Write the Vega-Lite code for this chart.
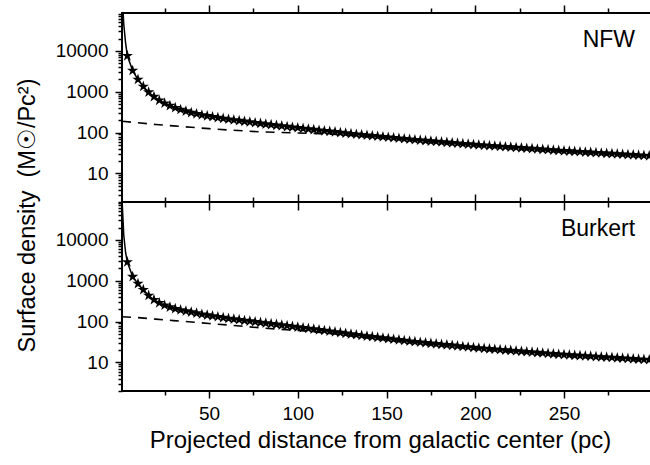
{
  "$schema": "https://vega.github.io/schema/vega-lite/v6.json",
  "background": "white",
  "padding": {"left": 14, "top": 3, "right": 0, "bottom": 0},
  "bounds": "flush",
  "spacing": 0,
  "config": {
    "font": "Liberation Sans",
    "view": {"stroke": "#000", "strokeWidth": 2},
    "axis": {"domain": false, "grid": false, "tickColor": "#000", "tickWidth": 1.5, "labelColor": "#000", "titleColor": "#000", "labelFont": "Liberation Sans", "titleFont": "Liberation Sans", "labelFontSize": 19, "titleFontWeight": "normal", "labelOverlap": false, "labelFlush": false}
  },
  "datasets": {
    "nfw": [{"x":1,"v":250000,"s":0},{"x":2,"v":45000,"s":0},{"x":3,"v":16000,"s":0},
{"x":4,"v":7590,"s":1},{"x":7,"v":3310,"s":1},{"x":10,"v":1995,"s":1},{"x":13,"v":1349,"s":1},{"x":16,"v":977,"s":1},{"x":19,"v":759,"s":1},{"x":22,"v":617,"s":1},{"x":25,"v":525,"s":1},{"x":28,"v":457,"s":1},{"x":31,"v":407,"s":1},{"x":34,"v":367,"s":1},{"x":37,"v":335,"s":1},{"x":40,"v":309,"s":1},{"x":43,"v":288,"s":1},{"x":46,"v":269,"s":1},{"x":49,"v":256,"s":1},{"x":52,"v":244,"s":1},{"x":55,"v":233,"s":1},{"x":58,"v":222,"s":1},{"x":61,"v":212,"s":1},{"x":64,"v":204,"s":1},{"x":67,"v":196,"s":1},{"x":70,"v":188,"s":1},{"x":73,"v":181,"s":1},{"x":76,"v":174,"s":1},{"x":79,"v":168,"s":1},{"x":82,"v":161,"s":1},{"x":85,"v":156,"s":1},{"x":88,"v":150,"s":1},{"x":91,"v":145,"s":1},{"x":94,"v":140,"s":1},{"x":97,"v":135,"s":1},{"x":100,"v":131,"s":1},{"x":103,"v":126,"s":1},{"x":106,"v":122,"s":1},{"x":109,"v":118,"s":1},{"x":112,"v":114,"s":1},{"x":115,"v":110,"s":1},{"x":118,"v":107,"s":1},{"x":121,"v":104,"s":1},{"x":124,"v":100,"s":1},{"x":127,"v":97.1,"s":1},{"x":130,"v":94,"s":1},{"x":133,"v":91,"s":1},{"x":136,"v":88.3,"s":1},{"x":139,"v":85.9,"s":1},{"x":142,"v":83.5,"s":1},{"x":145,"v":81.1,"s":1},{"x":148,"v":78.9,"s":1},{"x":151,"v":76.7,"s":1},{"x":154,"v":74.6,"s":1},{"x":157,"v":72.6,"s":1},{"x":160,"v":70.5,"s":1},{"x":163,"v":68.6,"s":1},{"x":166,"v":66.7,"s":1},{"x":169,"v":65.2,"s":1},{"x":172,"v":63.5,"s":1},{"x":175,"v":61.9,"s":1},{"x":178,"v":60.5,"s":1},{"x":181,"v":59,"s":1},{"x":184,"v":57.5,"s":1},{"x":187,"v":56.1,"s":1},{"x":190,"v":54.8,"s":1},{"x":193,"v":53.5,"s":1},{"x":196,"v":52.1,"s":1},{"x":199,"v":50.9,"s":1},{"x":202,"v":49.8,"s":1},{"x":205,"v":48.8,"s":1},{"x":208,"v":47.8,"s":1},{"x":211,"v":46.8,"s":1},{"x":214,"v":45.8,"s":1},{"x":217,"v":44.9,"s":1},{"x":220,"v":44,"s":1},{"x":223,"v":43.1,"s":1},{"x":226,"v":42.2,"s":1},{"x":229,"v":41.3,"s":1},{"x":232,"v":40.5,"s":1},{"x":235,"v":39.6,"s":1},{"x":238,"v":38.8,"s":1},{"x":241,"v":38,"s":1},{"x":244,"v":37.2,"s":1},{"x":247,"v":36.5,"s":1},{"x":250,"v":35.7,"s":1},{"x":253,"v":35.1,"s":1},{"x":256,"v":34.5,"s":1},{"x":259,"v":33.9,"s":1},{"x":262,"v":33.3,"s":1},{"x":265,"v":32.7,"s":1},{"x":268,"v":32.1,"s":1},{"x":271,"v":31.6,"s":1},{"x":274,"v":31,"s":1},{"x":277,"v":30.5,"s":1},{"x":280,"v":30,"s":1},{"x":283,"v":29.4,"s":1},{"x":286,"v":28.9,"s":1},{"x":289,"v":28.4,"s":1},{"x":292,"v":27.9,"s":1},{"x":295,"v":27.5,"s":1},{"x":298,"v":27,"s":1}],
    "bur": [{"x":1,"v":100000,"s":0},{"x":2,"v":13000,"s":0},{"x":3,"v":5000,"s":0},
{"x":4,"v":2880,"s":1},{"x":7,"v":1260,"s":1},{"x":10,"v":851,"s":1},{"x":13,"v":603,"s":1},{"x":16,"v":437,"s":1},{"x":19,"v":343,"s":1},{"x":22,"v":288,"s":1},{"x":25,"v":251,"s":1},{"x":28,"v":226,"s":1},{"x":31,"v":207,"s":1},{"x":34,"v":193,"s":1},{"x":37,"v":181,"s":1},{"x":40,"v":171,"s":1},{"x":43,"v":161,"s":1},{"x":46,"v":151,"s":1},{"x":49,"v":144,"s":1},{"x":52,"v":137,"s":1},{"x":55,"v":131,"s":1},{"x":58,"v":125,"s":1},{"x":61,"v":119,"s":1},{"x":64,"v":115,"s":1},{"x":67,"v":111,"s":1},{"x":70,"v":106,"s":1},{"x":73,"v":103,"s":1},{"x":76,"v":98.8,"s":1},{"x":79,"v":95.3,"s":1},{"x":82,"v":91.8,"s":1},{"x":85,"v":88.5,"s":1},{"x":88,"v":85.3,"s":1},{"x":91,"v":82.1,"s":1},{"x":94,"v":79.1,"s":1},{"x":97,"v":76.1,"s":1},{"x":100,"v":73.3,"s":1},{"x":103,"v":70.6,"s":1},{"x":106,"v":67.9,"s":1},{"x":109,"v":65.4,"s":1},{"x":112,"v":62.8,"s":1},{"x":115,"v":60.4,"s":1},{"x":118,"v":58,"s":1},{"x":121,"v":55.7,"s":1},{"x":124,"v":53.6,"s":1},{"x":127,"v":51.4,"s":1},{"x":130,"v":49.4,"s":1},{"x":133,"v":47.5,"s":1},{"x":136,"v":45.7,"s":1},{"x":139,"v":44.1,"s":1},{"x":142,"v":42.6,"s":1},{"x":145,"v":41,"s":1},{"x":148,"v":39.6,"s":1},{"x":151,"v":38.2,"s":1},{"x":154,"v":36.9,"s":1},{"x":157,"v":35.6,"s":1},{"x":160,"v":34.4,"s":1},{"x":163,"v":33.1,"s":1},{"x":166,"v":32.1,"s":1},{"x":169,"v":31.1,"s":1},{"x":172,"v":30.2,"s":1},{"x":175,"v":29.3,"s":1},{"x":178,"v":28.4,"s":1},{"x":181,"v":27.6,"s":1},{"x":184,"v":26.9,"s":1},{"x":187,"v":26.1,"s":1},{"x":190,"v":25.3,"s":1},{"x":193,"v":24.5,"s":1},{"x":196,"v":23.8,"s":1},{"x":199,"v":23.1,"s":1},{"x":202,"v":22.5,"s":1},{"x":205,"v":22,"s":1},{"x":208,"v":21.5,"s":1},{"x":211,"v":21,"s":1},{"x":214,"v":20.5,"s":1},{"x":217,"v":20,"s":1},{"x":220,"v":19.6,"s":1},{"x":223,"v":19.1,"s":1},{"x":226,"v":18.7,"s":1},{"x":229,"v":18.2,"s":1},{"x":232,"v":17.8,"s":1},{"x":235,"v":17.4,"s":1},{"x":238,"v":17,"s":1},{"x":241,"v":16.6,"s":1},{"x":244,"v":16.2,"s":1},{"x":247,"v":15.8,"s":1},{"x":250,"v":15.5,"s":1},{"x":253,"v":15.2,"s":1},{"x":256,"v":14.9,"s":1},{"x":259,"v":14.7,"s":1},{"x":262,"v":14.4,"s":1},{"x":265,"v":14.2,"s":1},{"x":268,"v":13.9,"s":1},{"x":271,"v":13.6,"s":1},{"x":274,"v":13.4,"s":1},{"x":277,"v":13.2,"s":1},{"x":280,"v":12.9,"s":1},{"x":283,"v":12.7,"s":1},{"x":286,"v":12.5,"s":1},{"x":289,"v":12.2,"s":1},{"x":292,"v":12,"s":1},{"x":295,"v":11.8,"s":1},{"x":298,"v":11.6,"s":1}],
    "nfwHalo": [{"x":1,"v":190},{"x":10,"v":174},{"x":20,"v":158},{"x":30,"v":146},{"x":40,"v":135},{"x":50,"v":125},{"x":60,"v":117},{"x":70,"v":110},{"x":80,"v":104},{"x":90,"v":101},{"x":100,"v":98},{"x":110,"v":95},{"x":120,"v":91},{"x":130,"v":86},{"x":140,"v":80},{"x":150,"v":74},{"x":175,"v":59.5},{"x":200,"v":48.5},{"x":250,"v":34.4},{"x":298,"v":26}],
    "burHalo": [{"x":1,"v":132},{"x":10,"v":125},{"x":20,"v":115},{"x":30,"v":106},{"x":40,"v":98},{"x":50,"v":90},{"x":60,"v":83},{"x":70,"v":76},{"x":80,"v":70},{"x":90,"v":65},{"x":100,"v":61},{"x":110,"v":56},{"x":120,"v":50.5},{"x":130,"v":45},{"x":150,"v":36},{"x":175,"v":27.6},{"x":200,"v":21.7},{"x":250,"v":14.8},{"x":298,"v":11.1}]
  },
  "vconcat": [
    {
      "width": 529,
      "height": 189,
      "resolve": {"axis": {"x": "independent"}},
      "layer": [
        {
          "data": {"name": "nfw"},
          "mark": {"type": "line", "color": "#000", "strokeWidth": 1.5, "clip": true},
          "encoding": {
            "x": {"field": "x", "type": "quantitative", "scale": {"domain": [1, 299], "nice": false, "zero": false},
              "axis": {"orient": "bottom", "values": [25,50,75,100,125,150,175,200,225,250,275], "tickSize": {"condition": {"test": "datum.value % 50 === 0", "value": 8}, "value": 5}, "labels": false, "title": null}},
            "y": {"field": "v", "type": "quantitative", "scale": {"type": "log", "domain": [2, 85000], "nice": false},
              "axis": {"orient": "left", "values": [2,3,4,5,6,7,8,9,10,20,30,40,50,60,70,80,90,100,200,300,400,500,600,700,800,900,1000,2000,3000,4000,5000,6000,7000,8000,9000,10000,20000,30000,40000,50000,60000,70000,80000], "format": "d", "labelExpr": "indexof([10,100,1000,10000], datum.value) >= 0 ? datum.label : ''", "tickSize": {"condition": {"test": "indexof([10,100,1000,10000], datum.value) >= 0", "value": 7}, "value": 4}, "labelPadding": 7, "title": "Surface density\u00a0\u00a0(M☉/Pc²)", "titleFontSize": 23.5, "titleX": -95, "titleY": 202, "titleAngle": -90, "titleBaseline": "middle", "titleAlign": "center"}}
          }
        },
        {
          "data": {"name": "nfwHalo"},
          "mark": {"type": "line", "color": "#000", "strokeWidth": 1.6, "strokeDash": [9, 7], "clip": true},
          "encoding": {
            "x": {"field": "x", "type": "quantitative",
              "axis": {"orient": "top", "values": [25,50,75,100,125,150,175,200,225,250,275], "tickSize": {"condition": {"test": "datum.value % 50 === 0", "value": 8}, "value": 5}, "labels": false, "title": null}},
            "y": {"field": "v", "type": "quantitative"}
          }
        },
        {
          "data": {"name": "nfw"},
          "transform": [{"filter": "datum.s === 1"}],
          "mark": {"type": "point", "shape": "M0,-1L0.2245,-0.309L0.951,-0.309L0.363,0.118L0.588,0.809L0,0.382L-0.588,0.809L-0.363,0.118L-0.951,-0.309L-0.2245,-0.309Z", "filled": true, "color": "#000", "size": 140, "opacity": 1},
          "encoding": {
            "x": {"field": "x", "type": "quantitative", "axis": null},
            "y": {"field": "v", "type": "quantitative"}
          }
        },
        {
          "data": {"values": [{"x": 290, "v": 19000, "t": "NFW"}]},
          "mark": {"type": "text", "align": "right", "baseline": "middle", "fontSize": 23, "color": "#000", "font": "Liberation Sans"},
          "encoding": {
            "x": {"field": "x", "type": "quantitative", "axis": null},
            "y": {"field": "v", "type": "quantitative"},
            "text": {"field": "t"}
          }
        }
      ]
    },
    {
      "width": 529,
      "height": 189,
      "resolve": {"axis": {"x": "independent"}},
      "layer": [
        {
          "data": {"name": "bur"},
          "mark": {"type": "line", "color": "#000", "strokeWidth": 1.5, "clip": true},
          "encoding": {
            "x": {"field": "x", "type": "quantitative", "scale": {"domain": [1, 299], "nice": false, "zero": false},
              "axis": {"orient": "bottom", "values": [25,50,75,100,125,150,175,200,225,250,275], "format": "d", "labelExpr": "datum.value % 50 === 0 ? datum.label : ''", "tickSize": {"condition": {"test": "datum.value % 50 === 0", "value": 7}, "value": 4}, "labelPadding": 6, "title": "Projected distance from galactic center (pc)", "titleFontSize": 24, "titlePadding": 5, "titleX": 258, "titleAlign": "center"}},
            "y": {"field": "v", "type": "quantitative", "scale": {"type": "log", "domain": [2, 85000], "nice": false},
              "axis": {"orient": "left", "values": [2,3,4,5,6,7,8,9,10,20,30,40,50,60,70,80,90,100,200,300,400,500,600,700,800,900,1000,2000,3000,4000,5000,6000,7000,8000,9000,10000,20000,30000,40000,50000,60000,70000,80000], "format": "d", "labelExpr": "indexof([10,100,1000,10000], datum.value) >= 0 ? datum.label : ''", "tickSize": {"condition": {"test": "indexof([10,100,1000,10000], datum.value) >= 0", "value": 7}, "value": 4}, "labelPadding": 7, "title": null}}
          }
        },
        {
          "data": {"name": "burHalo"},
          "mark": {"type": "line", "color": "#000", "strokeWidth": 1.6, "strokeDash": [9, 7], "clip": true},
          "encoding": {
            "x": {"field": "x", "type": "quantitative",
              "axis": {"orient": "top", "values": [25,50,75,100,125,150,175,200,225,250,275], "tickSize": {"condition": {"test": "datum.value % 50 === 0", "value": 8}, "value": 5}, "labels": false, "title": null}},
            "y": {"field": "v", "type": "quantitative"}
          }
        },
        {
          "data": {"name": "bur"},
          "transform": [{"filter": "datum.s === 1"}],
          "mark": {"type": "point", "shape": "M0,-1L0.2245,-0.309L0.951,-0.309L0.363,0.118L0.588,0.809L0,0.382L-0.588,0.809L-0.363,0.118L-0.951,-0.309L-0.2245,-0.309Z", "filled": true, "color": "#000", "size": 140, "opacity": 1},
          "encoding": {
            "x": {"field": "x", "type": "quantitative", "axis": null},
            "y": {"field": "v", "type": "quantitative"}
          }
        },
        {
          "data": {"values": [{"x": 290, "v": 19000, "t": "Burkert"}]},
          "mark": {"type": "text", "align": "right", "baseline": "middle", "fontSize": 23, "color": "#000", "font": "Liberation Sans"},
          "encoding": {
            "x": {"field": "x", "type": "quantitative", "axis": null},
            "y": {"field": "v", "type": "quantitative"},
            "text": {"field": "t"}
          }
        }
      ]
    }
  ]
}
